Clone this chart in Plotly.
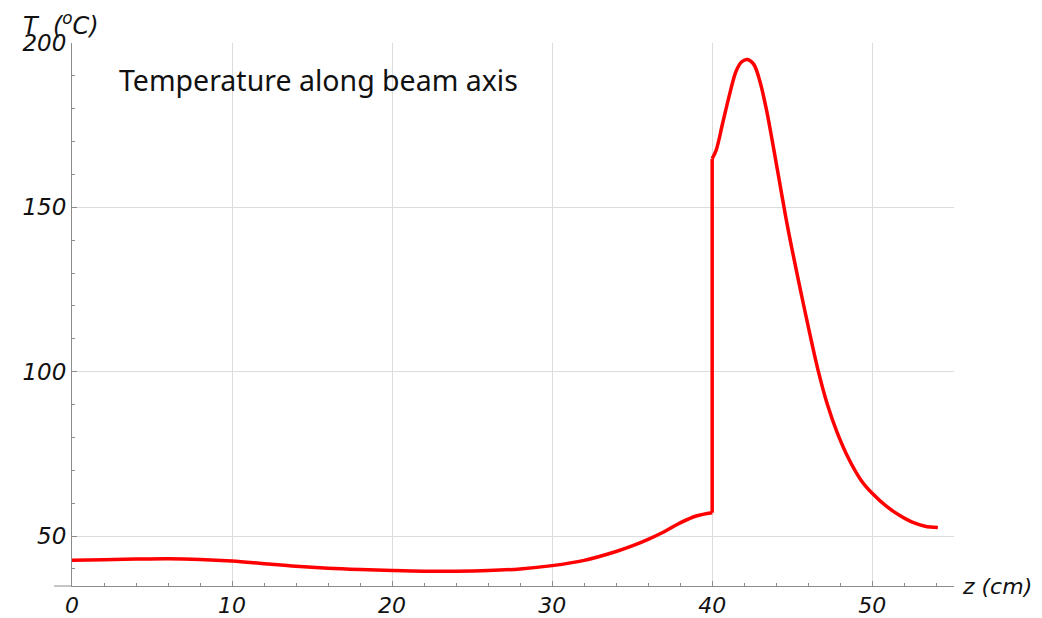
import plotly.graph_objects as go

# Temperature along beam axis (lower section, before the step at z=40 cm)
z_low = [0, 2, 4, 6, 8, 10, 12, 14, 16, 18, 20, 22, 24, 26, 28, 30, 32, 34, 35, 36, 37, 38, 39, 40]
T_low = [42.6, 42.8, 43.0, 43.1, 42.9, 42.4, 41.6, 40.8, 40.2, 39.8, 39.5, 39.3, 39.3, 39.5, 40.0,
         41.0, 42.6, 45.3, 47.0, 49.0, 51.3, 54.0, 56.1, 57.1]

# step at z=40 cm
z_step = [40, 40]
T_step = [57.1, 164.8]

# upper section after the step
z_high = [40, 40.25, 40.65, 41.1, 41.5, 41.85, 42.2, 42.6, 43.0, 43.4, 43.8, 44.2, 44.6, 45.0, 45.5,
          46.0, 46.6, 47.2, 47.8, 48.5, 49.3, 50.0, 50.9, 51.7, 52.5, 53.3, 54.1]
T_high = [164.8, 167.4, 175.5, 184.6, 191.5, 194.3, 195.0, 193.5, 188.0, 179.5, 169.0, 158.0, 147.0,
          137.0, 125.2, 113.8, 100.8, 90.0, 81.6, 73.8, 67.0, 63.0, 59.0, 56.3, 54.2, 53.0, 52.6]

x_ticks = [0, 10, 20, 30, 40, 50]
y_ticks = [50, 100, 150, 200]

RED = "#ff0000"
AXIS = "#8c8c8c"
GRID = "#dcdcdc"
YTICKFONT = dict(family="DejaVu Sans", size=23, color="#111111", style="italic")
XTICKFONT = dict(family="DejaVu Sans", size=22, color="#111111", style="italic")

X_MIN, X_MAX = 0, 55.11
Y_MIN, Y_MAX = 34.8, 200

OFF = 8  # page body margin
W, H = 1042 - OFF, 618 - OFF
L, T = 72 - OFF, 43 - OFF
PW, PH = 882, 543
R, B = W - L - PW, H - T - PH

def px(xp):  # page x -> paper
    return (xp - OFF - L) / PW

def py(yp):  # page y -> paper
    return 1 - (yp - OFF - T) / PH

fig = go.Figure()
for xs, ys, shape in [(z_low, T_low, "spline"), (z_step, T_step, "linear"), (z_high, T_high, "spline")]:
    fig.add_trace(go.Scatter(x=xs, y=ys, mode="lines",
                             line=dict(color=RED, width=3.5, shape=shape, smoothing=1.0),
                             showlegend=False, hoverinfo="skip"))

fig.update_layout(
    width=W, height=H,
    margin=dict(l=L, r=R, t=T, b=B),
    paper_bgcolor="white", plot_bgcolor="white",
    xaxis=dict(range=[X_MIN, X_MAX], tickvals=x_ticks, ticks="inside", ticklen=5,
               tickcolor=AXIS, showline=True, linecolor=AXIS, linewidth=1,
               showgrid=True, gridcolor=GRID, gridwidth=1, zeroline=False,
               tickfont=XTICKFONT, automargin=False,
               minor=dict(dtick=2, tick0=0, ticks="inside", ticklen=3, tickcolor=AXIS, showgrid=False)),
    yaxis=dict(range=[Y_MIN, Y_MAX], tickvals=y_ticks, ticks="inside", ticklen=5,
               tickcolor=AXIS, showline=True, linecolor=AXIS, linewidth=1,
               showgrid=True, gridcolor=GRID, gridwidth=1, zeroline=False,
               tickfont=YTICKFONT, ticklabelstandoff=0, automargin=False,
               minor=dict(dtick=10, tick0=0, ticks="inside", ticklen=3, tickcolor=AXIS, showgrid=False)),
    shapes=[
        # x-axis line extends slightly left of the y-axis
        dict(type="line", xref="paper", yref="paper", x0=-18 / PW, x1=0, y0=0, y1=0,
             line=dict(color=AXIS, width=1)),
    ],
    annotations=[
        dict(text="Temperature along beam axis", xref="paper", yref="paper",
             x=px(117), y=py(80), xanchor="left", yanchor="middle",
             showarrow=False, font=dict(family="Noto Sans", size=28.5, color="#111111")),
        dict(text="T&nbsp; (<sup>o</sup>C)", xref="paper", yref="paper",
             x=px(21), y=py(24), xanchor="left", yanchor="middle",
             showarrow=False, font=dict(family="DejaVu Sans", size=24, color="#111111", style="italic")),
        dict(text="z (cm)", xref="paper", yref="paper",
             x=px(960), y=0, xanchor="left", yanchor="middle",
             showarrow=False, font=dict(family="DejaVu Sans", size=22, color="#111111", style="italic")),
    ],
)

fig.write_html("out.html")
